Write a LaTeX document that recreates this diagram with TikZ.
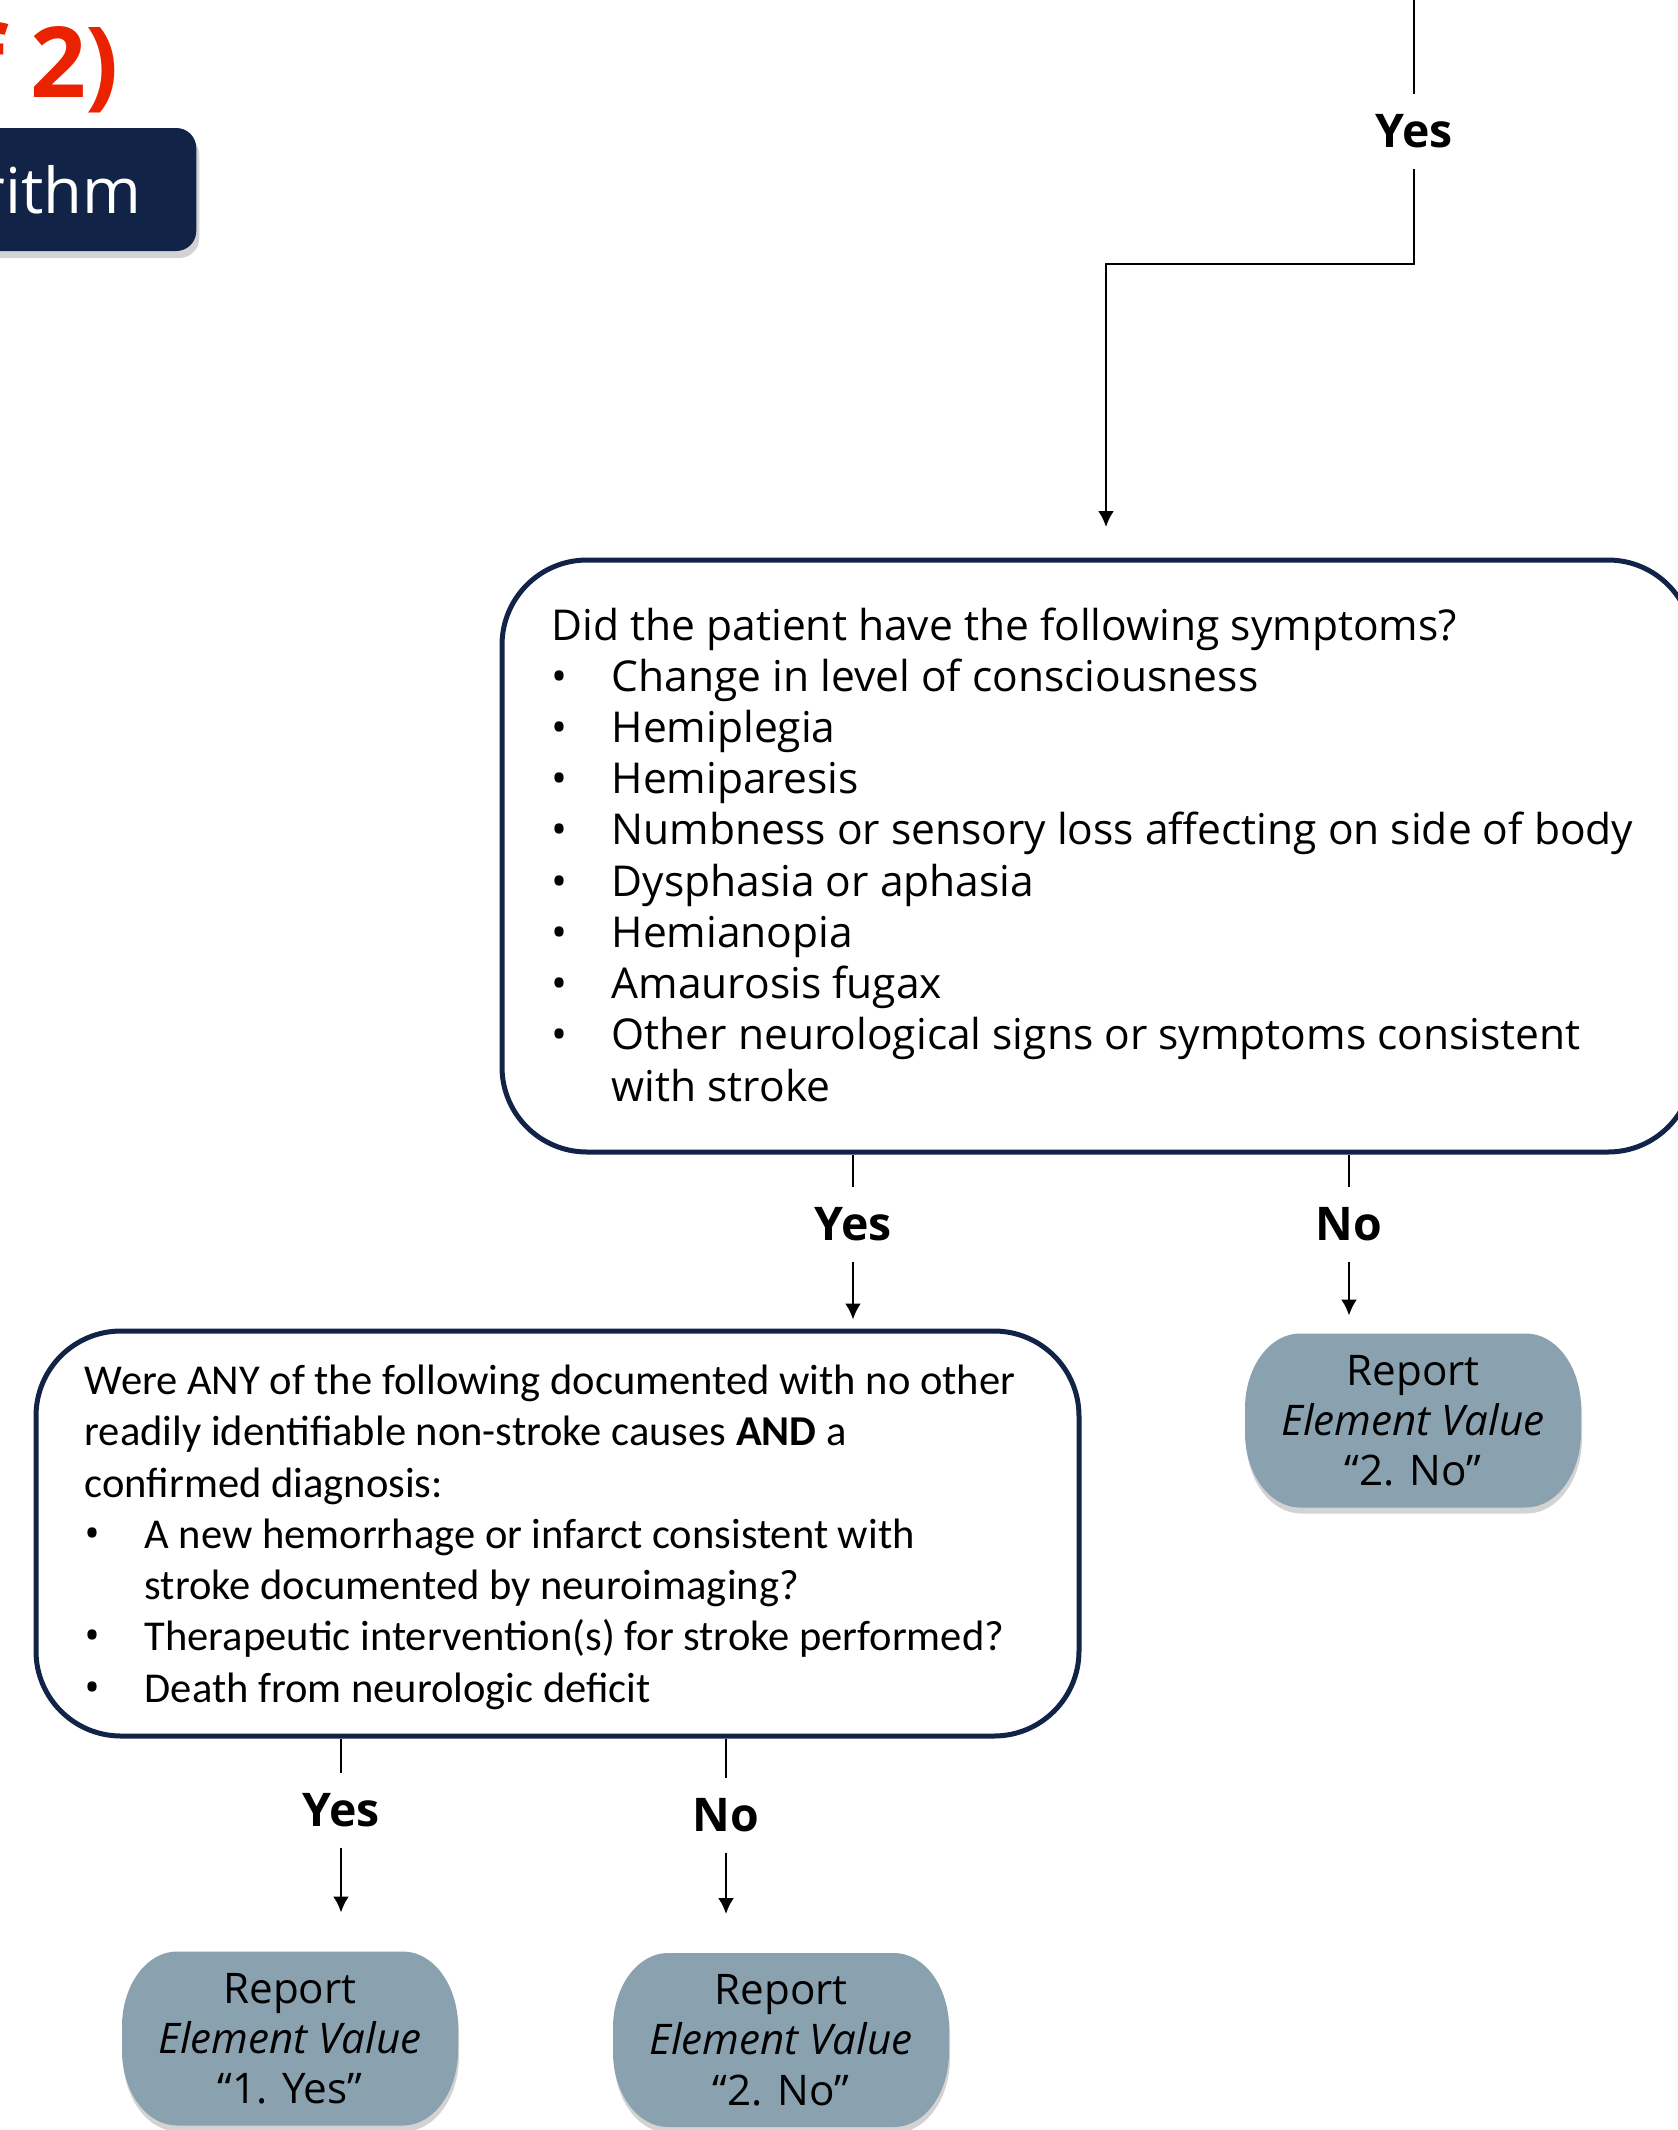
\documentclass[tikz,border=0pt]{standalone}
\usepackage{fontspec}
\setmainfont{Open Sans}
\newfontfamily\carlito{Carlito}
\usetikzlibrary{arrows.meta,shadows,backgrounds}
\definecolor{navy}{RGB}{18,35,72}
\definecolor{slate}{RGB}{138,162,176}
\definecolor{titlered}{RGB}{235,34,0}
\newcommand{\bul}{\makebox[0.6cm][l]{\normalfont\textbullet}}
\newcommand{\ind}{\hspace*{0.6cm}}

\begin{document}
\begin{tikzpicture}[
question/.style={
draw=navy,
line width=0.5mm,
rounded corners=0.85cm
},
qtext/.style={
align=left,
inner sep=0,
anchor=base west,
font=\fontsize{12.1}{14.57}\selectfont
},
answer/.style={
inner xsep=0,
inner ysep=0.2cm,
font=\bfseries\fontsize{13.2}{16}\selectfont
},
report/.style={
align=center,
inner sep=0,
outer sep=0,
minimum width=3.36cm,
minimum height=1.74cm,
font=\fontsize{12}{14.3}\selectfont
},
line/.style={line width=0.25mm},
arrow/.style={line width=0.25mm, -{Latex[length=1.6mm,width=1.6mm]}}
]
\useasboundingbox (0,0) rectangle (16.78,-21.30);

\node[text=titlered, inner sep=0, anchor=base east,
font=\bfseries\fontsize{27.9}{30}\selectfont] (part) at (1.20,-0.97)
{f 2)};

\node[fill=navy, text=white, rounded corners=0.2cm, anchor=east,
inner xsep=0.55cm, minimum height=1.23cm,
drop shadow={shadow xshift=0.03cm, shadow yshift=-0.07cm, opacity=0.35},
font=\fontsize{18}{20}\selectfont] (banner) at (1.97,-1.895)
{rithm};

\node[question, minimum width=11.91cm, minimum height=5.92cm] (symptoms) at (10.975,-8.56) {};
\node[qtext] (symptomlist) at (5.51,-11.01)
{Did the patient have the following symptoms?\\
\bul Change in level of consciousness\\
\bul Hemiplegia\\
\bul Hemiparesis\\
\bul Numbness or sensory loss affecting on side of body\\
\bul Dysphasia or aphasia\\
\bul Hemianopia\\
\bul Amaurosis fugax\\
\bul Other neurological signs or symptoms consistent\\
\ind with stroke};

\node[question, minimum width=10.43cm, minimum height=4.05cm] (evidence) at (5.575,-15.335) {};
\node[qtext, font=\carlito\fontsize{12.1}{14.57}\selectfont] (evidencelist) at (0.84,-17.02)
{Were ANY of the following documented with no other\\
readily identifiable non-stroke causes \textbf{AND} a\\
confirmed diagnosis:\\
\bul A new hemorrhage or infarct consistent with\\
\ind stroke documented by neuroimaging?\\
\bul Therapeutic intervention(s) for stroke performed?\\
\bul Death from neurologic deficit};

\node[report] (reportA) at (14.13,-14.205)
{Report\\\textit{Element Value}\\“2. No”};
\node[report] (reportB) at (2.90,-20.385)
{Report\\\textit{Element Value}\\“1. Yes”};
\node[report] (reportC) at (7.81,-20.40)
{Report\\\textit{Element Value}\\“2. No”};

\begin{scope}[on background layer]
\foreach \r in {reportA,reportB,reportC}
\fill[slate, drop shadow={shadow xshift=0.01cm, shadow yshift=-0.06cm, opacity=0.35}]
([xshift=0.55cm]\r.north west) -- ([xshift=-0.55cm]\r.north east)
arc[start angle=90, end angle=0, x radius=0.55cm, y radius=0.75cm]
-- ([yshift=0.75cm]\r.south east)
arc[start angle=0, end angle=-90, x radius=0.55cm, y radius=0.75cm]
-- ([xshift=0.55cm]\r.south west)
arc[start angle=270, end angle=180, x radius=0.55cm, y radius=0.75cm]
-- ([yshift=-0.75cm]\r.north west)
arc[start angle=180, end angle=90, x radius=0.55cm, y radius=0.75cm]
-- cycle;
\end{scope}

\coordinate (top) at (14.14,0);
\coordinate (entry) at (11.06,-5.27);

\node[answer] (yes0) at (14.14,-1.315) {Yes};
\node[answer] (yes1) at (8.53,-12.24) {Yes};
\node[answer] (no1) at (13.49,-12.24) {No};
\node[answer] (yes2) at (3.41,-18.10) {Yes};
\node[answer] (no2) at (7.26,-18.15) {No};

\draw[line] (top) -- (yes0);
\draw[arrow] (yes0) -- ++(0,-1.325) -| (entry);

\draw[line] (symptoms.south -| yes1) -- (yes1);
\draw[line] (symptoms.south -| no1) -- (no1);
\draw[arrow, shorten >=0.09cm] (yes1) -- (yes1 |- evidence.north);
\draw[arrow, shorten >=0.18cm] (no1) -- (no1 |- reportA.north);

\draw[line] (evidence.south -| yes2) -- (yes2);
\draw[line] (evidence.south -| no2) -- (no2);
\draw[arrow, shorten >=0.39cm] (yes2) -- (yes2 |- reportB.north);
\draw[arrow, shorten >=0.39cm] (no2) -- (no2 |- reportC.north);

\end{tikzpicture}
\end{document}
